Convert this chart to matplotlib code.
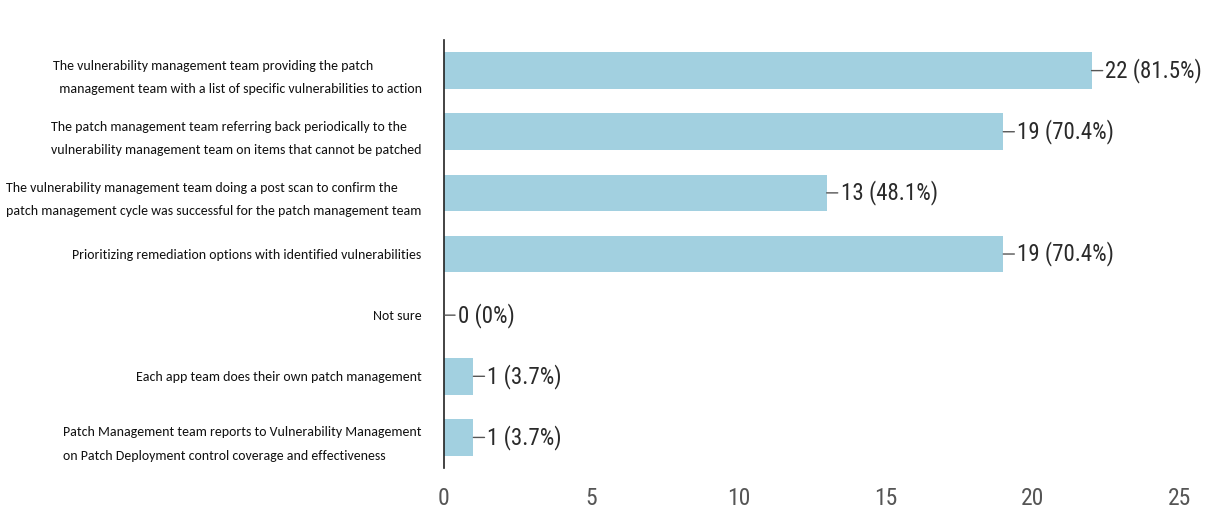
import numpy as np
import matplotlib
matplotlib.use("Agg")
import matplotlib.pyplot as plt
from matplotlib import font_manager

# survey answers, top to bottom
labels = [
    "The vulnerability management team providing the patch\n"
    "  management team with a list of specific vulnerabilities to action",
    "The patch management team referring back periodically to the\n"
    "vulnerability management team on items that cannot be patched",
    "The vulnerability management team doing a post scan to confirm the\n"
    "patch management cycle was successful for the patch management team",
    "Prioritizing remediation options with identified vulnerabilities",
    "Not sure",
    "Each app team does their own patch management",
    "Patch Management team reports to Vulnerability Management\n"
    "on Patch Deployment control coverage and effectiveness",
]
counts = [22, 19, 13, 19, 0, 1, 1]
percents = ["81.5%", "70.4%", "48.1%", "70.4%", "0%", "3.7%", "3.7%"]
xticks = [0, 5, 10, 15, 20, 25]

installed = {f.name for f in font_manager.fontManager.ttflist}


def pick(*families):
    for fam in families:
        if fam in installed:
            return fam
    return "DejaVu Sans"


narrow = pick("Liberation Sans Narrow", "Arimo Narrow", "Roboto Condensed",
              "Archivo Narrow", "PT Sans Narrow", "Asap Condensed")
label_font = pick("Carlito", "Open Sans", "Lato")

fig = plt.figure(figsize=(12.14, 5.2), dpi=100)
ax = fig.add_axes([0.3657, 0.1, 0.6183, 0.823])

ypos = np.arange(len(labels))
ax.barh(ypos, counts, height=0.6, color="#a2d0e0")

for y, c, p in zip(ypos, counts, percents):
    ax.annotate(f"{c} ({p})", xy=(c, y), xytext=(10, 0), textcoords="offset points",
                ha="left", va="center", fontsize=16.5, family=narrow, color="#2a2a2a",
                arrowprops=dict(arrowstyle="-", color="#555555", lw=1,
                                shrinkA=0, shrinkB=0))

ax.set_xlim(0, 25.5)
ax.set_ylim(len(labels) - 0.5, -0.5)
ax.set_xticks(xticks)
ax.set_yticks(ypos)
ax.set_yticklabels(labels, fontsize=10, family=label_font, color="#111111",
                   multialignment="left", linespacing=2.15)
ax.tick_params(axis="x", length=0, pad=14, labelsize=17, colors="#555555")
ax.tick_params(axis="y", length=0, pad=16)
for lab in ax.get_xticklabels():
    lab.set_family(narrow)

for side in ["top", "right", "bottom"]:
    ax.spines[side].set_visible(False)
ax.spines["left"].set_color("#222222")
ax.spines["left"].set_linewidth(1.2)

fig.savefig("out.png", dpi=100)
